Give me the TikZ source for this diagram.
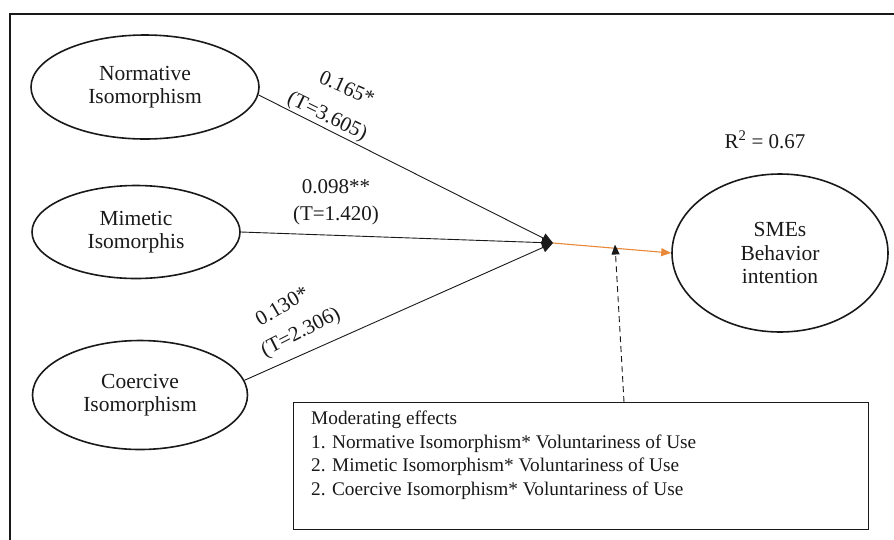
\documentclass[tikz,border=0pt]{standalone}
\usepackage{fontspec}
\setmainfont{Liberation Serif}
\usetikzlibrary{shapes.geometric,arrows.meta}
\definecolor{orangeline}{RGB}{232,136,58}
\definecolor{ink}{RGB}{25,25,25}
\begin{document}
\begin{tikzpicture}[x=1pt,y=-1pt,
  construct/.style={ellipse,draw=ink,line width=1.6pt,inner sep=0pt,align=center,
    font=\fontsize{21.5}{23.5}\selectfont,text=ink},
  path/.style={draw=ink,line width=0.9pt,-{Triangle[length=11pt,width=10pt]}},
  lbl/.style={font=\fontsize{21}{23}\selectfont,text=ink,inner sep=0pt}]
\useasboundingbox (0,0) rectangle (894,539);
\draw[line width=2pt,ink] (10,540) -- (10,14) -- (895,14);
\node[construct,minimum width=228pt,minimum height=104pt] (norm) at (145,87) {Normative\\Isomorphism};
\node[construct,minimum width=208pt,minimum height=93pt] (mim) at (136,232) {Mimetic\\Isomorphis};
\node[construct,minimum width=215pt,minimum height=109pt] (coer) at (140,395) {Coercive\\Isomorphism};
\node[construct,minimum width=216pt,minimum height=158pt] (sme) at (780,253) {SMEs\\Behavior\\intention};
\coordinate (J) at (553,243);
\coordinate (M) at (615,244.5);
\draw[path] (norm.-4) -- (J);
\draw[path] (mim.east) -- (J);
\draw[path] (coer.8) -- (J);
\draw[draw=orangeline,line width=1.1pt,-{Triangle[length=10pt,width=8pt]}] (J) -- (sme.west);
\node[draw=ink,line width=1pt,minimum width=575pt,minimum height=127pt,anchor=north west,inner sep=0pt] (mod) at (293,402) {};
\node[anchor=north west,align=left,font=\fontsize{19.3}{23.5}\selectfont,text=ink,inner sep=0pt] (modtext) at (311,411) {Moderating effects\\1. Normative Isomorphism* Voluntariness of Use\\2. Mimetic Isomorphism* Voluntariness of Use\\2. Coercive Isomorphism* Voluntariness of Use};
\coordinate (D) at (624,402);
\draw[ink,line width=0.9pt,dash pattern=on 6pt off 4pt,-{Triangle[length=10pt,width=8pt]}] (D) -- (M);
\node[lbl,rotate=-24] (l1a) at (347,88) {0.165*};
\node[lbl,rotate=-26] (l1b) at (327,117) {(T=3.605)};
\node[lbl] (l2a) at (336,187) {0.098**};
\node[lbl] (l2b) at (336,215) {(T=1.420)};
\node[lbl,rotate=30] (l3a) at (282,306) {0.130*};
\node[lbl,rotate=27] (l3b) at (301,333) {(T=2.306)};
\node[lbl] (r2) at (765,140) {R\textsuperscript{2} = 0.67};
\end{tikzpicture}
\end{document}
